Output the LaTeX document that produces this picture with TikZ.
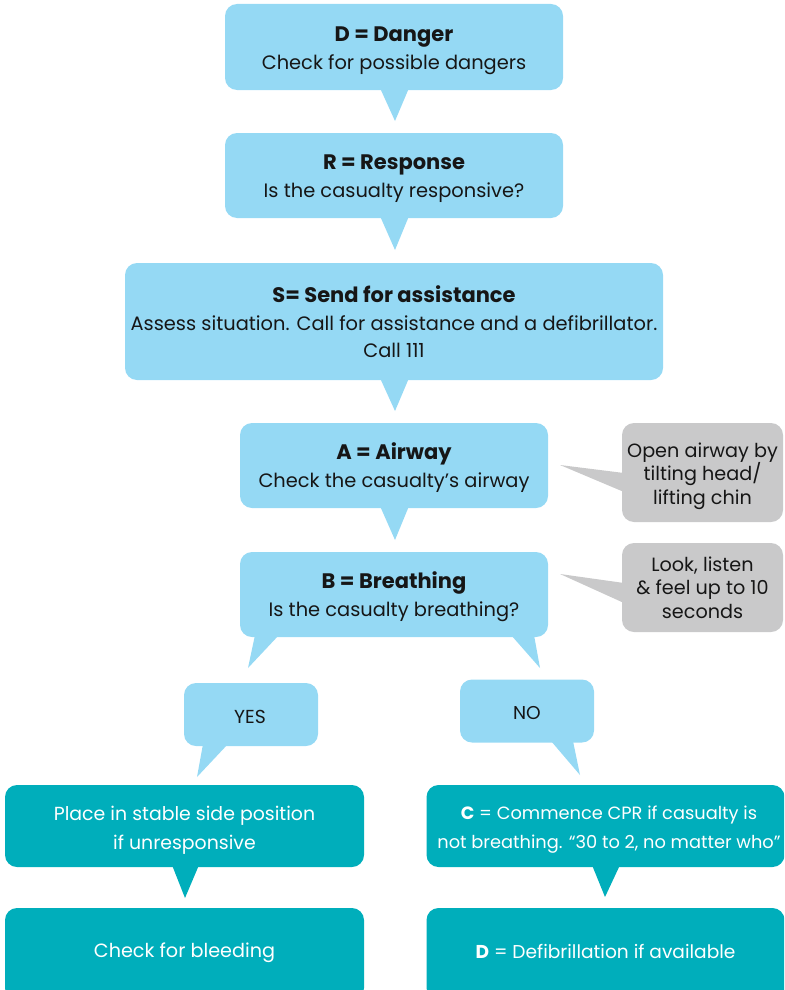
\documentclass[tikz,border=0pt]{standalone}
\usepackage{fontspec}
\setmainfont{Poppins}
\definecolor{lb}{HTML}{95D9F4}
\definecolor{teal}{HTML}{00AEBB}
\definecolor{gr}{HTML}{C9C9CA}
\definecolor{ink}{HTML}{161616}
\newcommand{\ttl}[1]{{\fontsize{21}{28}\selectfont\bfseries #1}}
\begin{document}
\begin{tikzpicture}[x=1pt,y=-1pt,
  bub/.style={rectangle, rounded corners=12pt, inner sep=0pt},
  blue/.style={bub, fill=lb},
  grey/.style={bub, fill=gr},
  tl/.style={bub, fill=teal},
  btxt/.style={inner sep=0pt, align=center, text=ink, font=\fontsize{19.4}{28}\selectfont},
  gtxt/.style={inner sep=0pt, align=center, text=ink, font=\fontsize{19.2}{23.5}\selectfont},
  ttxt/.style={inner sep=0pt, align=center, text=white, font=\fontsize{18.9}{29}\selectfont}
]
\useasboundingbox (0,0) rectangle (784,990);
\clip (0,0) rectangle (784,990);
% pointers
\fill[lb] (380,88) -- (409,88) -- (395,121) -- cycle;
\fill[lb] (380,216) -- (409,216) -- (395,250) -- cycle;
\fill[lb] (380,378) -- (409,378) -- (395,411) -- cycle;
\fill[lb] (380,506) -- (409,506) -- (395,540) -- cycle;
\fill[lb] (255,635) -- (279,635) -- (248,668) -- cycle;
\fill[lb] (511,635) -- (534,635) -- (540,668) -- cycle;
\fill[gr] (624,473) -- (624,492) -- (560,465) -- cycle;
\fill[gr] (624,583) -- (624,603) -- (560,574) -- cycle;
\fill[lb] (203,744) -- (228,744) -- (197,777) -- cycle;
\fill[lb] (551,741) -- (573,741) -- (580,775) -- cycle;
\fill[teal] (172,865) -- (199,865) -- (185,898) -- cycle;
\fill[teal] (592,865) -- (620,865) -- (605,897) -- cycle;
% boxes
\node[blue, minimum width=338pt, minimum height=86pt] (d) at (394,47) {};
\node[blue, minimum width=338pt, minimum height=85pt] (r) at (394,175.5) {};
\node[blue, minimum width=538pt, minimum height=117pt] (s) at (394,321.5) {};
\node[blue, minimum width=308pt, minimum height=85pt] (a) at (394,465.5) {};
\node[blue, minimum width=308pt, minimum height=85pt] (b) at (394,594.5) {};
\node[grey, minimum width=161pt, minimum height=99pt] (g1) at (702.5,472.5) {};
\node[grey, minimum width=161pt, minimum height=89pt] (g2) at (702.5,587.5) {};
\node[blue, minimum width=134pt, minimum height=63pt] (yes) at (251,714.5) {};
\node[blue, minimum width=134pt, minimum height=63pt] (no) at (527,711) {};
\node[tl, minimum width=359pt, minimum height=82pt] (t1) at (184.5,826) {};
\node[tl, minimum width=359pt, minimum height=92pt] (t2) at (184.5,954) {};
\node[tl, minimum width=358pt, minimum height=82pt] (t3) at (605.5,826) {};
\node[tl, minimum width=358pt, minimum height=92pt] (t4) at (605.5,954) {};
% texts
\node[btxt] (dT) at (394,50.5) {\ttl{D = Danger}\\Check for possible dangers};
\node[btxt] (rT) at (394,179) {\ttl{R = Response}\\Is the casualty responsive?};
\node[btxt, font=\fontsize{19.4}{27.5}\selectfont] (sT) at (394,322)
  {\ttl{S= Send for assistance}\\Assess situation. Call for assistance and a defibrillator.\\Call 111};
\node[btxt] (aT) at (394,467.5) {\ttl{A = Airway}\\Check the casualty’s airway};
\node[btxt] (bT) at (394,596.5) {\ttl{B = Breathing}\\Is the casualty breathing?};
\node[gtxt] (g1T) at (702.5,476) {Open airway by\\tilting head/\\lifting chin};
\node[gtxt] (g2T) at (702.5,587.5) {Look, listen\\\&~feel up to 10\\seconds};
\node[btxt, font=\fontsize{18.8}{20}\selectfont] (yesT) at (250,716.5) {YES};
\node[btxt, font=\fontsize{18.6}{20}\selectfont] (noT) at (527,713) {NO};
\node[ttxt] (t1T) at (184.5,830) {Place in stable side position\\if unresponsive};
\node[ttxt, font=\fontsize{19.2}{29}\selectfont] (t2T) at (184.5,953) {Check for bleeding};
\node[ttxt, font=\fontsize{17.8}{29}\selectfont] (t3T) at (609,830)
  {\textbf{C} = Commence CPR if casualty is\\not breathing. “30 to 2, no matter who”};
\node[ttxt, font=\fontsize{18.6}{29}\selectfont] (t4T) at (605.5,951) {\textbf{D} = Defibrillation if available};
\end{tikzpicture}
\end{document}
